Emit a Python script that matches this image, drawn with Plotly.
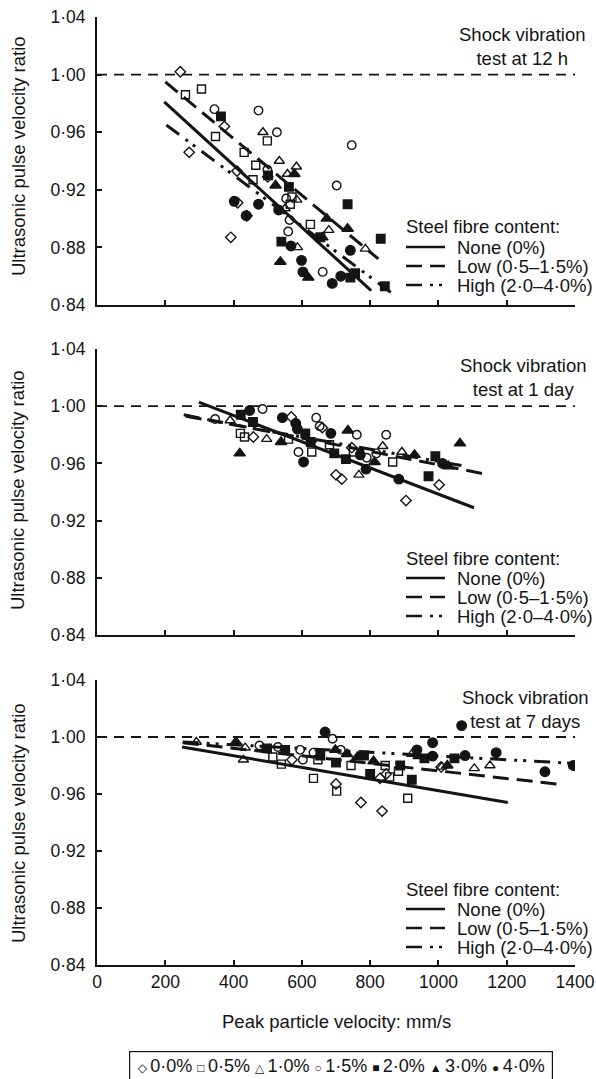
import plotly.graph_objects as go

FONT = "Liberation Sans, Arial, DejaVu Sans, sans-serif"
W, H = 596, 1079
ML, MR, MT, MB = 97, 21, 17, 114

# ---------------- axes / labels ----------------
x_ticks = [0, 200, 400, 600, 800, 1000, 1200, 1400]
x_tick_text = ["0", "200", "400", "600", "800", "1000", "1200", "1400"]
y_ticks = [0.84, 0.88, 0.92, 0.96, 1.00, 1.04]
y_tick_text = ["0·84", "0·88", "0·92", "0·96", "1·00", "1·04"]

panel_titles = ["Shock vibration<br>test at 12 h",
                "Shock vibration<br>test at 1 day",
                "Shock vibration<br>test at 7 days"]
series_names = ["0·0%", "0·5%", "1·0%", "1·5%", "2·0%", "3·0%", "4·0%"]
fit_names = ["None (0%)", "Low (0·5–1·5%)", "High (2·0–4·0%)"]
reference_ratio = 1.00

# ---------------- panel 1: 12 h ----------------
h12_00_x = [244, 373, 270, 410, 412, 439, 392, 500]
h12_00_y = [1.002, 0.964, 0.946, 0.933, 0.911, 0.902, 0.887, 0.929]
h12_05_x = [259, 306, 347, 431, 465, 499, 457, 571, 625, 566]
h12_05_y = [0.986, 0.990, 0.957, 0.946, 0.937, 0.954, 0.927, 0.915, 0.896, 0.910]
h12_10_x = [486, 534, 558, 584, 585, 587, 679, 786, 551]
h12_10_y = [0.960, 0.940, 0.931, 0.936, 0.913, 0.880, 0.892, 0.879, 0.907]
h12_15_x = [344, 473, 527, 746, 702, 499, 554, 564, 560, 661]
h12_15_y = [0.976, 0.975, 0.960, 0.951, 0.923, 0.934, 0.914, 0.899, 0.891, 0.863]
h12_20_x = [363, 501, 562, 734, 540, 654, 831, 742, 756, 843]
h12_20_y = [0.971, 0.930, 0.922, 0.910, 0.884, 0.887, 0.886, 0.859, 0.862, 0.853]
h12_30_x = [523, 578, 673, 734, 537, 619, 660]
h12_30_y = [0.923, 0.931, 0.900, 0.893, 0.870, 0.859, 0.887]
h12_40_x = [402, 437, 473, 532, 568, 599, 603, 689, 714, 742]
h12_40_y = [0.912, 0.902, 0.910, 0.906, 0.881, 0.871, 0.863, 0.855, 0.860, 0.878]
h12_fit_x = [[197, 803], [200, 824], [203, 876]]
h12_fit_y = [[0.981, 0.850], [0.995, 0.872], [0.965, 0.846]]

# ---------------- panel 2: 1 day ----------------
d1_00_x = [569, 660, 458, 700, 717, 1002, 905, 746]
d1_00_y = [0.9925, 0.985, 0.9785, 0.952, 0.949, 0.945, 0.934, 0.971]
d1_05_x = [420, 432, 561, 629, 681, 751, 866]
d1_05_y = [0.981, 0.9785, 0.977, 0.968, 0.973, 0.968, 0.961]
d1_10_x = [390, 497, 767, 837, 893]
d1_10_y = [0.990, 0.977, 0.952, 0.972, 0.968]
d1_15_x = [346, 485, 642, 652, 590, 761, 847, 790, 818]
d1_15_y = [0.991, 0.998, 0.992, 0.986, 0.968, 0.980, 0.980, 0.964, 0.967]
d1_20_x = [421, 457, 610, 626, 695, 729, 991, 971]
d1_20_y = [0.994, 0.989, 0.981, 0.975, 0.967, 0.963, 0.965, 0.951]
d1_30_x = [418, 539, 735, 930, 1063, 813, 1029]
d1_30_y = [0.967, 0.975, 0.983, 0.966, 0.974, 0.961, 0.958]
d1_40_x = [447, 543, 582, 587, 685, 605, 771, 788, 884, 1012]
d1_40_y = [0.997, 0.992, 0.988, 0.984, 0.981, 0.961, 0.966, 0.956, 0.949, 0.960]
d1_fit_x = [[298, 1104], [254, 1149], [260, 1080]]
d1_fit_y = [[1.0028, 0.929], [0.994, 0.952], [0.993, 0.958]]

# ---------------- panel 3: 7 days ----------------
d7_00_x = [571, 700, 773, 835, 829, 847, 1008]
d7_00_y = [0.984, 0.967, 0.954, 0.948, 0.971, 0.974, 0.979]
d7_05_x = [515, 540, 647, 634, 702, 744, 844, 857, 883, 910]
d7_05_y = [0.986, 0.981, 0.984, 0.971, 0.962, 0.980, 0.980, 0.972, 0.976, 0.957]
d7_10_x = [291, 429, 434, 922, 1010, 1105, 1151]
d7_10_y = [0.9965, 0.984, 0.9925, 0.988, 0.979, 0.978, 0.980]
d7_15_x = [476, 530, 595, 603, 634, 690, 714]
d7_15_y = [0.994, 0.993, 0.991, 0.984, 0.989, 0.9988, 0.991]
d7_20_x = [498, 551, 654, 700, 782, 800, 888, 922, 959, 1047]
d7_20_y = [0.992, 0.991, 0.987, 0.982, 0.987, 0.974, 0.980, 0.970, 0.985, 0.985]
d7_30_x = [407, 698, 732, 763, 810, 1026, 942]
d7_30_y = [0.9966, 0.991, 0.988, 0.986, 0.983, 0.980, 0.9866]
d7_40_x = [668, 1068, 983, 983, 937, 1078, 1169, 1312, 1395]
d7_40_y = [1.0035, 1.008, 0.996, 0.9866, 0.991, 0.987, 0.989, 0.9756, 0.980]
d7_fit_x = [[249, 1203], [251, 1349], [251, 1395]]
d7_fit_y = [[0.993, 0.954], [0.996, 0.967], [0.9965, 0.9815]]

panels = [
    ([h12_00_x, h12_05_x, h12_10_x, h12_15_x, h12_20_x, h12_30_x, h12_40_x],
     [h12_00_y, h12_05_y, h12_10_y, h12_15_y, h12_20_y, h12_30_y, h12_40_y],
     h12_fit_x, h12_fit_y),
    ([d1_00_x, d1_05_x, d1_10_x, d1_15_x, d1_20_x, d1_30_x, d1_40_x],
     [d1_00_y, d1_05_y, d1_10_y, d1_15_y, d1_20_y, d1_30_y, d1_40_y],
     d1_fit_x, d1_fit_y),
    ([d7_00_x, d7_05_x, d7_10_x, d7_15_x, d7_20_x, d7_30_x, d7_40_x],
     [d7_00_y, d7_05_y, d7_10_y, d7_15_y, d7_20_y, d7_30_y, d7_40_y],
     d7_fit_x, d7_fit_y),
]

# ---------------- styles ----------------
marker_symbols = ["diamond-open", "square-open", "triangle-up-open", "circle-open",
                  "square", "triangle-up", "circle"]
marker_sizes = [8, 8, 9, 8.5, 8.5, 10, 9.5]
fit_dashes = ["solid", "16px,8px", "16px,8px,3px,6px,3px,8px"]
BLACK = "#141414"


def px_y(p):  # pixel row -> paper fraction
    return (H - MB - p) / (H - MT - MB)


def px_x(p):  # pixel column -> paper fraction
    return (p - ML) / (W - ML - MR)


domains = [[px_y(305), 1.0], [px_y(635), px_y(349)], [0.0, px_y(680)]]

fig = go.Figure()
for i, (sx, sy, fx, fy) in enumerate(panels):
    xa = "x" if i == 0 else f"x{i+1}"
    ya = "y" if i == 0 else f"y{i+1}"
    for k in range(3):
        fig.add_trace(go.Scatter(
            x=fx[k], y=fy[k], mode="lines", xaxis=xa, yaxis=ya,
            line=dict(color=BLACK, width=3, dash=fit_dashes[k]),
            name=fit_names[k], showlegend=False, hoverinfo="skip"))
    for j in range(7):
        fig.add_trace(go.Scatter(
            x=sx[j], y=sy[j], mode="markers", xaxis=xa, yaxis=ya,
            marker=dict(symbol=marker_symbols[j], size=marker_sizes[j], color=BLACK,
                        line=dict(width=1.4, color=BLACK)),
            name=series_names[j], showlegend=False))

axis_common = dict(showline=True, linewidth=1.8, linecolor=BLACK, mirror=False,
                   ticks="inside", ticklen=5, tickwidth=1.5, tickcolor=BLACK,
                   showgrid=False, zeroline=False, automargin=False)
layout = dict(width=W, height=H, margin=dict(l=ML, r=MR, t=MT, b=MB, autoexpand=False),
              paper_bgcolor="white", plot_bgcolor="white",
              font=dict(family=FONT, color=BLACK), showlegend=False)
for i in range(3):
    xk = "xaxis" if i == 0 else f"xaxis{i+1}"
    yk = "yaxis" if i == 0 else f"yaxis{i+1}"
    ya = "y" if i == 0 else f"y{i+1}"
    xa = "x" if i == 0 else f"x{i+1}"
    layout[xk] = dict(axis_common, domain=[0, 1], anchor=ya, range=[0, 1400],
                      tickvals=x_ticks, ticktext=x_tick_text,
                      showticklabels=(i == 2), tickfont=dict(size=17.5))
    layout[yk] = dict(axis_common, domain=domains[i], anchor=xa, range=[0.84, 1.04],
                      tickvals=y_ticks, ticktext=y_tick_text, tickfont=dict(size=17.5),
                      ticklabelstandoff=6)
fig.update_layout(**layout)

shapes = []
annotations = []
panel_shift = [0, 331, 662]
title_y = [46, 377, 709]
title_x = [522, 523, 525]
ytitle_y = [156, 490, 823]
for i in range(3):
    xa = "x" if i == 0 else f"x{i+1}"
    ya = "y" if i == 0 else f"y{i+1}"
    shapes.append(dict(type="line", xref=xa, yref=ya, x0=0, x1=1400,
                       y0=reference_ratio, y1=reference_ratio,
                       line=dict(color=BLACK, width=1.8, dash="10px,7px")))
    annotations.append(dict(text=panel_titles[i], xref="paper", yref="paper",
                            x=px_x(title_x[i]), y=px_y(title_y[i]),
                            xanchor="center", yanchor="middle", showarrow=False,
                            align="center", font=dict(size=18.5)))
    annotations.append(dict(text="Ultrasonic pulse velocity ratio", xref="paper", yref="paper",
                            x=px_x(18), y=px_y(ytitle_y[i]), textangle=-90,
                            xanchor="center", yanchor="middle", showarrow=False,
                            font=dict(size=18.5)))
    s = panel_shift[i]
    annotations.append(dict(text="Steel fibre content:", xref="paper", yref="paper",
                            x=px_x(404), y=px_y(227 + s), xanchor="left", yanchor="middle",
                            showarrow=False, font=dict(size=18.5)))
    for k, ry in enumerate([247, 266, 285]):
        annotations.append(dict(text=fit_names[k], xref="paper", yref="paper",
                                x=px_x(455), y=px_y(ry + s), xanchor="left", yanchor="middle",
                                showarrow=False, font=dict(size=18.5)))
        shapes.append(dict(type="line", xref="paper", yref="paper",
                           x0=px_x(406), x1=px_x(445), y0=px_y(ry + s), y1=px_y(ry + s),
                           line=dict(color=BLACK, width=2.4, dash=fit_dashes[k])))

annotations.append(dict(text="Peak particle velocity: mm/s", xref="paper", yref="paper",
                        x=px_x(336), y=px_y(1021), xanchor="center", yanchor="middle",
                        showarrow=False, font=dict(size=18.5)))

legend_symbols = ["◇", "□", "△", "○", "■", "▲", "●"]
legend_text = "".join(
    f"<span style='font-size:12px'>{legend_symbols[j]} </span>{series_names[j]}"
    + ("" if j == 6 else " ")
    for j in range(7))
annotations.append(dict(text=legend_text, xref="paper", yref="paper",
                        x=px_x(341), y=px_y(1066), xanchor="center", yanchor="middle",
                        width=422, height=28, showarrow=False, align="center", valign="middle",
                        bordercolor=BLACK, borderwidth=1.2, borderpad=0,
                        font=dict(size=18, family="Liberation Sans, DejaVu Sans, sans-serif")))

fig.update_layout(shapes=shapes, annotations=annotations)
fig.write_html("out.html", config={"displayModeBar": False},
               post_script="document.body.style.margin='0';"
                           "document.body.style.overflow='hidden';")
